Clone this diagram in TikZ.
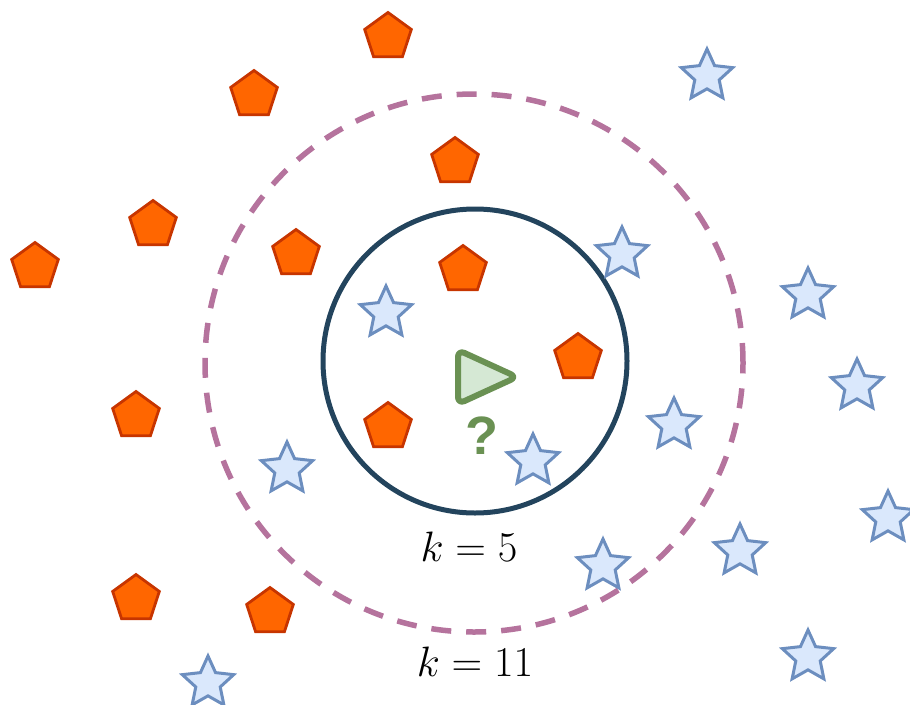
\documentclass[tikz,border=0pt]{standalone}
\usetikzlibrary{shapes.geometric}
\usepackage{fontspec}
\newfontfamily\qfont{Liberation Sans}
\definecolor{penfill}{HTML}{FF6600}
\definecolor{penline}{HTML}{C73500}
\definecolor{starfill}{HTML}{DAE8FC}
\definecolor{starline}{HTML}{6C8EBF}
\definecolor{navy}{HTML}{23445D}
\definecolor{mauve}{HTML}{B5739D}
\definecolor{gfill}{HTML}{D5E8D4}
\definecolor{gline}{HTML}{6A9153}
\tikzset{
  pent/.style={regular polygon, regular polygon sides=5, minimum size=49pt, inner sep=0pt,
    fill=penfill, draw=penline, line width=2.8pt},
  bstar/.style={star, star points=5, star point ratio=2.1, minimum size=54pt, inner sep=0pt,
    fill=starfill, draw=starline, line width=3pt},
  lbl/.style={font=\huge, scale=2.05, inner sep=0pt}
}
\begin{document}
\begin{tikzpicture}[x=1pt,y=-1pt]
\useasboundingbox (0,0) rectangle (910,704);
% circles
\node (outer) [circle, minimum size=538pt, inner sep=0pt, draw=mauve, line width=5.5pt,
  dash pattern=on 20pt off 15pt] at (474,363) {};
\node (inner) [circle, minimum size=304pt, inner sep=0pt, draw=navy, line width=5pt] at (475,361) {};
% pentagons
\node (p1) [pent] at (388,37) {};
\node (p2) [pent] at (254,95) {};
\node (p3) [pent] at (455,162) {};
\node (p4) [pent] at (153,225) {};
\node (p5) [pent] at (35,267) {};
\node (p6) [pent] at (296,254) {};
\node (p7) [pent] at (463,270) {};
\node (p8) [pent] at (578,358) {};
\node (p9) [pent] at (388,427) {};
\node (p10) [pent] at (136,416) {};
\node (p11) [pent] at (136,599) {};
\node (p12) [pent] at (270,612) {};
% stars
\node (s1) [bstar] at (707,76) {};
\node (s2) [bstar] at (622,254) {};
\node (s3) [bstar] at (386,313) {};
\node (s4) [bstar] at (808,295) {};
\node (s5) [bstar] at (857,386) {};
\node (s6) [bstar] at (674,425) {};
\node (s7) [bstar] at (533,461) {};
\node (s8) [bstar] at (287,469) {};
\node (s9) [bstar] at (740,551) {};
\node (s10) [bstar] at (603,566) {};
\node (s11) [bstar] at (888,518) {};
\node (s12) [bstar] at (808,657) {};
\node (s13) [bstar] at (208,683) {};
% query triangle
\coordinate (ta) at (458,350);
\coordinate (tb) at (458,404);
\coordinate (tc) at (517,377);
\draw[fill=gfill, draw=gline, line width=6pt, line join=round, rounded corners=7pt]
  (ta) -- (tc) -- (tb) -- cycle;
\node (q) [text=gline, font=\qfont\bfseries\fontsize{54}{58}\selectfont, inner sep=0pt] at (482,436) {?};
% labels
\node (l5) [lbl] at (469,547) {$k=5$};
\node (l11) [lbl] at (475,662) {$k=11$};
\end{tikzpicture}
\end{document}
